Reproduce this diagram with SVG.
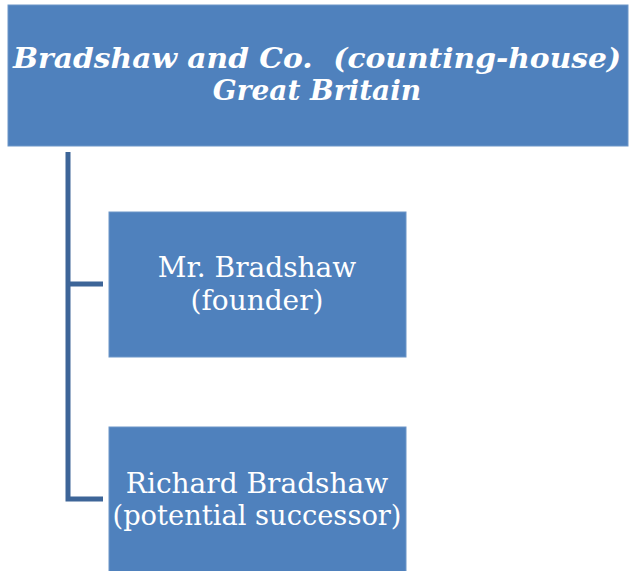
<svg xmlns="http://www.w3.org/2000/svg" width="630" height="571" viewBox="0 0 630 571">
<style>
.box{fill:#4f81bd;stroke:#6d96c8;stroke-width:1}
.t{font-family:"DejaVu Serif","Liberation Serif",serif;fill:#ffffff;text-anchor:middle}
.title{font-size:28px;font-weight:bold;font-style:italic}
.child{font-size:28px}
.conn{fill:none;stroke:#3d6598;stroke-width:5}
</style>
<rect width="630" height="571" fill="#ffffff"/>
<g id="connectors">
<path class="conn" d="M68,152 V499 H103"/>
<path class="conn" d="M68,284 H103"/>
</g>
<g id="root">
<rect class="box" x="8" y="5" width="620" height="141"/>
<text class="t title" x="317" y="68" textLength="608" lengthAdjust="spacingAndGlyphs">Bradshaw and Co.&#160; (counting-house)</text>
<text class="t title" x="317" y="100">Great Britain</text>
</g>
<g id="founder">
<rect class="box" x="109" y="212" width="297" height="145"/>
<text class="t child" x="257" y="277">Mr. Bradshaw</text>
<text class="t child" x="257" y="310">(founder)</text>
</g>
<g id="successor">
<rect class="box" x="109" y="427" width="297" height="146"/>
<text class="t child" x="257" y="493">Richard Bradshaw</text>
<text class="t child" x="257" y="525" textLength="289" lengthAdjust="spacingAndGlyphs">(potential successor)</text>
</g>
</svg>
